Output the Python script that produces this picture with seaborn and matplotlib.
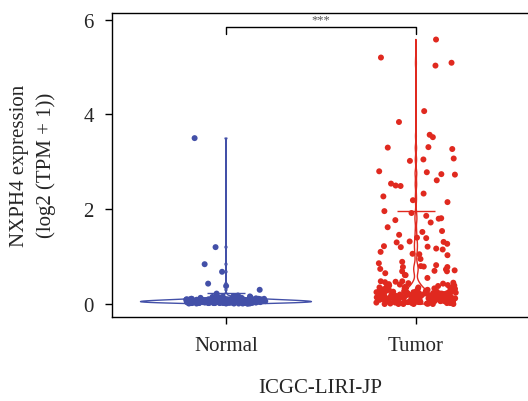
import numpy as np
import pandas as pd
import matplotlib
matplotlib.use("Agg")
import matplotlib.pyplot as plt
import seaborn as sns

groups = ["Normal", "Tumor"]
normal_values = [
    0.02, 0.05, 0.08, 0.03, 0.11, 0.06, 0.01, 0.09, 0.04, 0.07,
    0.12, 0.03, 0.06, 0.10, 0.02, 0.05, 0.08, 0.14, 0.04, 0.07,
    0.01, 0.09, 0.06, 0.03, 0.11, 0.05, 0.08, 0.02, 0.13, 0.06,
    0.04, 0.07, 0.10, 0.03, 0.05, 0.09, 0.01, 0.06, 0.12, 0.04,
    0.08, 0.02, 0.07, 0.05, 0.15, 0.03, 0.06, 0.10, 0.04, 0.08,
    0.02, 0.11, 0.05, 0.07, 0.03, 0.09, 0.06, 0.01, 0.04, 0.13,
    0.08, 0.05, 0.02, 0.07, 0.10, 0.03, 0.06, 0.09, 0.04, 0.12,
    0.05, 0.01, 0.08, 0.06, 0.03, 0.11, 0.07, 0.02, 0.05, 0.09,
    0.04, 0.14, 0.06, 0.03, 0.08, 0.10, 0.05, 0.02, 0.07, 0.04,
    0.16, 0.06, 0.09, 0.03, 0.05, 0.11, 0.01, 0.08, 0.04, 0.07,
    0.02, 0.06, 0.12, 0.05, 0.03, 0.09, 0.07, 0.04, 0.10, 0.06,
    0.02, 0.08, 0.05, 0.13, 0.03, 0.07, 0.04, 0.06, 0.01, 0.09,
    0.05, 0.11, 0.03, 0.08, 0.06, 0.02, 0.04, 0.10, 0.07, 0.05,
    0.03, 0.12, 0.06, 0.09, 0.04, 0.02, 0.08, 0.05, 0.07, 0.14,
    0.03, 0.06, 0.01, 0.10, 0.04, 0.08, 0.05, 0.02, 0.11, 0.07,
    0.06, 0.03, 0.09, 0.04, 0.05, 0.15, 0.02, 0.07, 0.06, 0.08,
    0.04, 0.03, 0.10, 0.05, 0.01, 0.07, 0.12, 0.06, 0.09, 0.04,
    0.02, 0.05, 0.08, 0.03, 0.06, 0.11, 0.07, 0.04, 0.13, 0.05,
    0.03, 0.09, 0.06, 0.02, 0.08, 0.04, 0.10, 0.05, 0.07, 0.03,
    3.50, 1.20, 0.84, 0.68, 0.43, 0.38, 0.30, 0.22, 0.18, 0.17,
]
tumor_values = [
    5.58, 5.20, 5.03, 5.09, 4.07, 3.84, 3.57, 3.52, 3.31, 3.30,
    3.07, 3.27, 3.02, 3.05, 2.80, 2.73, 2.74, 2.78, 2.61, 2.54,
    2.49, 2.50, 2.33, 2.27, 2.15, 2.19, 1.92, 1.96, 1.72, 1.81,
    1.86, 1.77, 1.80, 1.62, 1.54, 1.52, 1.46, 1.40, 1.39, 1.30,
    1.31, 1.32, 1.27, 1.15, 1.22, 1.21, 1.20, 1.17, 1.05, 1.06,
    1.03, 1.10, 0.95, 0.89, 0.86, 0.82, 0.80, 0.78, 0.79, 0.78,
    0.71, 0.65, 0.74, 0.70, 0.61, 0.61, 0.73, 0.69, 0.69, 0.55,
    0.48, 0.48,
    0.47, 0.45, 0.44, 0.42, 0.41, 0.40, 0.39, 0.38, 0.37, 0.36,
    0.35, 0.35, 0.34, 0.33, 0.33, 0.32, 0.31, 0.31, 0.30, 0.30,
    0.29, 0.29, 0.28, 0.28, 0.27, 0.27, 0.26, 0.26, 0.26, 0.25,
    0.25, 0.24, 0.24, 0.24, 0.23, 0.23, 0.22, 0.22, 0.22, 0.21,
    0.21, 0.21, 0.20, 0.20, 0.20, 0.19, 0.19, 0.19, 0.18, 0.18,
    0.18, 0.17, 0.17, 0.17, 0.16, 0.16, 0.16, 0.16, 0.15, 0.15,
    0.15, 0.14, 0.14, 0.14, 0.14, 0.13, 0.13, 0.13, 0.12, 0.12,
    0.12, 0.12, 0.11, 0.11, 0.11, 0.10, 0.10, 0.10, 0.10, 0.09,
    0.09, 0.09, 0.08, 0.08, 0.08, 0.08, 0.07, 0.07, 0.07, 0.06,
    0.06, 0.06, 0.06, 0.05, 0.05, 0.05, 0.04, 0.04, 0.04, 0.04,
    0.03, 0.03, 0.03, 0.02, 0.02, 0.02, 0.01, 0.01, 0.01, 0.00,
    0.00, 0.00, 0.00, 0.00, 0.43, 0.36, 0.32, 0.28, 0.25, 0.23,
    0.19, 0.15, 0.11, 0.07, 0.05, 0.03, 0.09, 0.13, 0.17, 0.21,
    0.27, 0.34, 0.39, 0.46, 0.02, 0.06, 0.10, 0.14, 0.18, 0.22,
    0.08, 0.12, 0.16, 0.20, 0.24, 0.04, 0.01, 0.00, 0.30, 0.26,
    0.15, 0.11, 0.07, 0.03, 0.09,
]
summary_values = [0.24, 1.96]
group_colors = ["#4350A8", "#E0291F"]
y_ticks = [0, 2, 4, 6]
y_label = "NXPH4 expression\n(log2 (TPM + 1))"
x_label = "ICGC-LIRI-JP"
signif_label = "***"

df = pd.DataFrame({
    "group": ["Normal"] * len(normal_values) + ["Tumor"] * len(tumor_values),
    "value": normal_values + tumor_values,
})
palette = dict(zip(groups, group_colors))

sns.set_style("ticks")
plt.rcParams["font.family"] = ["Liberation Serif", "DejaVu Serif"]

fig = plt.figure(figsize=(5.28, 4.02), dpi=100)
ax = fig.add_axes([112 / 528, (402 - 318) / 402, (528 - 112) / 528, (318 - 13.7) / 402])

sns.violinplot(data=df, x="group", y="value", hue="group", order=groups,
               hue_order=groups, palette=palette, fill=False, inner=None,
               cut=0, bw_adjust=0.2, density_norm="area", common_norm=True,
               width=0.9, linewidth=1.0, gridsize=600, legend=False, ax=ax)
np.random.seed(7)
sns.stripplot(data=df, x="group", y="value", hue="group", order=groups,
              hue_order=groups, palette=palette, jitter=0.21, size=4.3,
              linewidth=0, legend=False, ax=ax, zorder=3)

for i, (g, s) in enumerate(zip(groups, summary_values)):
    ax.hlines(s, i - 0.1, i + 0.1, color=palette[g], lw=1.0, zorder=4)

# significance bracket
ax.plot([0, 0, 1, 1], [5.70, 5.85, 5.85, 5.70], color="black", lw=1.0)
ax.text(0.5, 5.88, signif_label, ha="center", va="bottom", fontsize=9,
        color="#555555")

ax.set_xlim(-0.6, 1.59)
ax.set_ylim(-0.274, 6.146)
ax.set_yticks(y_ticks)
ax.set_ylabel(y_label, fontsize=15, linespacing=1.5, labelpad=20)
ax.set_xlabel(x_label, fontsize=15, labelpad=16)
ax.tick_params(axis="both", labelsize=15, length=5, width=1, color="black")
ax.tick_params(axis="y", pad=8)
ax.tick_params(axis="x", pad=9)
ax.spines["right"].set_visible(False)
for sp in ["left", "bottom", "top"]:
    ax.spines[sp].set_linewidth(1.0)
    ax.spines[sp].set_color("black")

fig.savefig("out.png", dpi=100)
